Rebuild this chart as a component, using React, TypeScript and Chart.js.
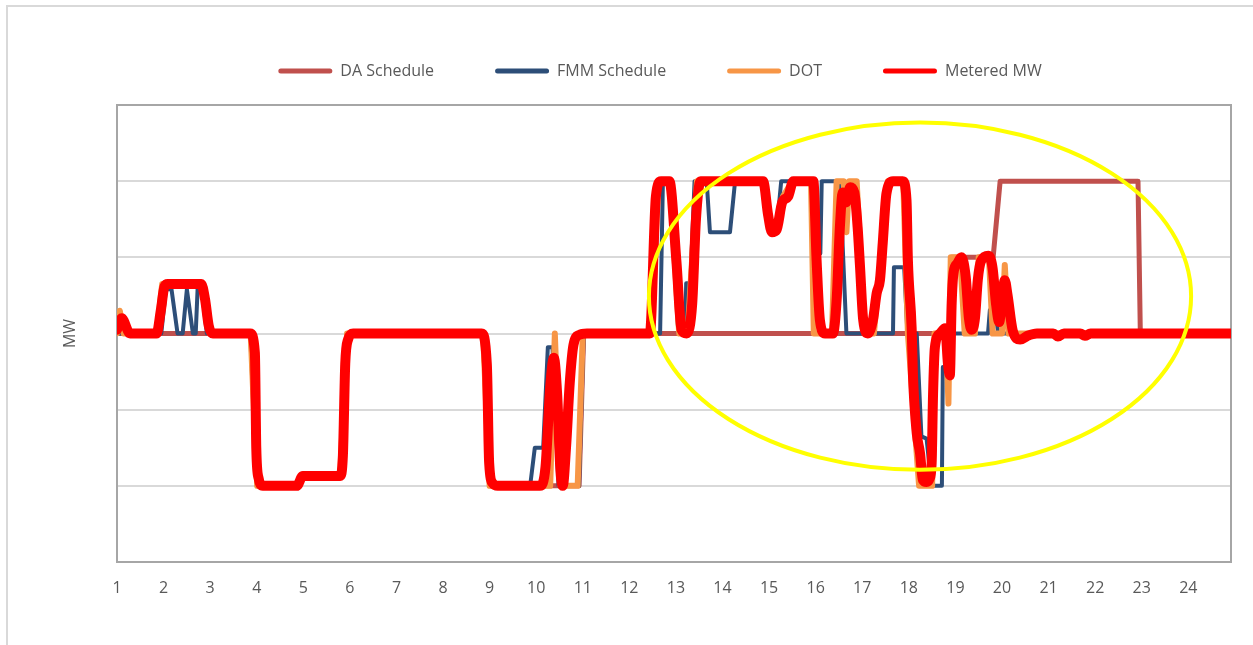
import { useEffect, useRef } from 'react';
import { Chart, registerables } from 'chart.js';

Chart.register(...registerables);

// Hour-of-day tick labels along the bottom axis
const hourTicks = [1, 2, 3, 4, 5, 6, 7, 8, 9, 10, 11, 12, 13, 14, 15, 16, 17, 18, 19, 20, 21, 22, 23, 24];
// The axis spans 288 five-minute intervals starting at hour 1
const HOUR_MIN = 1;
const HOUR_MAX = 1 + 287 / 12;

// Day-ahead schedule
const daHours = [1.0, 3.87, 4.01, 4.86, 4.99, 5.79, 5.94, 8.86, 9.0, 10.92, 11.02, 18.88, 18.92, 19.81, 19.96, 22.92, 22.97, 24.92];
const daMW = [3.0, 3.0, 1.0, 1.0, 1.13, 1.13, 3.0, 3.0, 1.0, 1.0, 3.0, 3.0, 4.0, 4.0, 5.0, 5.0, 3.0, 3.0];

// Fifteen-minute market schedule
const fmmHours = [
  1.0, 1.95, 2.05, 2.17, 2.3, 2.41, 2.5, 2.63, 2.69, 2.73, 2.82, 2.93,
  3.88, 4.01, 4.86, 4.99, 5.79, 5.94, 8.86, 9.0,
  9.87, 9.97, 10.15, 10.25, 10.35, 10.48, 10.92, 11.02,
  12.66, 12.72, 12.9, 13.05, 13.2, 13.22, 13.31, 13.4, 13.66, 13.73, 14.16, 14.27,
  14.9, 15.0, 15.16, 15.26, 15.97, 16.04, 16.1, 16.13, 16.52, 16.66,
  17.66, 17.68, 17.9, 17.97, 18.17, 18.27, 18.38, 18.49, 18.71, 18.73, 18.85, 18.92,
  19.7, 19.74, 19.85, 19.92, 24.92,
];
const fmmMW = [
  3.0, 3.0, 3.58, 3.58, 3.0, 3.0, 3.58, 3.0, 3.0, 3.58, 3.58, 3.0,
  3.0, 1.0, 1.0, 1.13, 1.13, 3.0, 3.0, 1.0,
  1.0, 1.5, 1.5, 2.82, 2.82, 1.0, 1.0, 3.0,
  3.0, 5.0, 5.0, 3.0, 3.0, 3.66, 3.66, 5.0, 5.0, 4.33, 4.33, 5.0,
  5.0, 4.35, 4.35, 5.0, 5.0, 4.05, 4.05, 5.0, 5.0, 3.0,
  3.0, 3.87, 3.87, 3.0, 3.0, 1.65, 1.62, 1.0, 1.0, 2.56, 2.56, 3.0,
  3.0, 3.31, 3.31, 3.0, 3.0,
];

// Dispatch operating target
const dotHours = [
  1.0, 1.06, 1.14, 1.85, 1.97, 2.84, 2.99, 3.87, 4.01, 4.86, 4.99, 5.79, 5.94,
  8.86, 9.0, 10.3, 10.4, 10.52, 10.89, 11.0,
  12.48, 12.62, 12.87, 13.07, 13.25, 13.45, 14.9, 15.03, 15.17, 15.3, 15.5,
  15.9, 15.96, 16.35, 16.45, 16.6, 16.66, 16.72, 16.88, 17.05, 17.25, 17.55, 17.88, 17.98,
  18.22, 18.5, 18.55, 18.8, 18.85, 18.9, 19.1, 19.2, 19.42, 19.5, 19.72, 19.8, 20.0, 20.06, 20.14, 24.92,
];
const dotMW = [
  3.0, 3.3, 3.0, 3.0, 3.65, 3.65, 3.0, 3.0, 1.0, 1.0, 1.13, 1.13, 3.0,
  3.0, 1.0, 1.0, 3.0, 1.0, 1.0, 3.0,
  3.0, 5.0, 5.0, 3.0, 3.0, 5.0, 5.0, 4.33, 4.33, 4.8, 5.0,
  5.0, 3.0, 3.0, 5.0, 5.0, 4.33, 5.0, 5.0, 3.0, 3.0, 5.0, 5.0, 3.0,
  1.0, 1.0, 3.0, 3.0, 2.08, 4.0, 4.0, 3.0, 3.0, 4.0, 4.0, 3.0, 3.0, 3.9, 3.0, 3.0,
];

// Metered output
const meteredHours = [
  1.0, 1.1, 1.28, 1.85, 1.94, 2.02, 2.09, 2.81, 2.89, 2.97, 3.06,
  3.86, 3.96, 3.99, 4.04, 4.13, 4.86, 4.99, 5.79, 5.85, 5.9, 5.96, 6.07,
  8.83, 8.94, 8.99, 9.07, 9.17, 10.08, 10.2, 10.3, 10.38, 10.45, 10.52, 10.57, 10.64, 10.72, 10.8, 10.92, 11.09,
  12.44, 12.57, 12.68, 12.86, 13.01, 13.12, 13.23, 13.35, 13.43, 13.53,
  14.87, 14.98, 15.06, 15.16, 15.28, 15.41, 15.52,
  15.95, 16.02, 16.09, 16.2, 16.37, 16.45, 16.52, 16.58, 16.65, 16.74, 16.83, 16.9, 16.95, 17.02, 17.12,
  17.23, 17.31, 17.38, 17.44, 17.52, 17.66, 17.87, 17.95, 17.98, 18.06, 18.09, 18.17, 18.24, 18.3, 18.38,
  18.45, 18.49, 18.52, 18.56, 18.67, 18.78, 18.84, 18.88, 18.92, 18.96, 19.04, 19.13, 19.22, 19.29, 19.35,
  19.42, 19.48, 19.55, 19.71, 19.8, 19.87, 19.94, 20.0, 20.06, 20.12, 20.23, 20.39, 20.55, 20.75,
  21.1, 21.2, 21.33, 21.68, 21.78, 21.9, 24.92,
];
const meteredMW = [
  3.05, 3.2, 3.0, 3.0, 3.3, 3.62, 3.65, 3.65, 3.45, 3.1, 3.0,
  3.0, 2.75, 1.5, 1.1, 1.0, 1.0, 1.13, 1.13, 1.4, 2.6, 2.92, 3.0,
  3.0, 2.6, 1.3, 1.03, 1.0, 1.0, 1.25, 2.3, 2.68, 2.2, 1.2, 1.0, 1.5, 2.35, 2.85, 2.98, 3.0,
  3.0, 4.8, 5.0, 5.0, 3.95, 3.05, 3.0, 3.4, 4.5, 5.0,
  5.0, 4.55, 4.33, 4.36, 4.72, 4.8, 5.0,
  5.0, 3.96, 3.18, 3.0, 3.0, 3.44, 4.4, 4.85, 4.72, 4.92, 4.85, 4.4, 3.9, 3.18, 3.0,
  3.18, 3.53, 3.7, 4.19, 4.84, 5.0, 5.0, 4.75, 3.96, 3.08, 2.43, 1.69, 1.43, 1.08, 1.05,
  1.1, 1.3, 2.2, 2.82, 3.0, 3.07, 2.6, 2.45, 3.4, 3.8, 3.92, 4.0, 3.75, 3.2, 3.05,
  3.2, 3.7, 3.95, 4.02, 3.85, 3.4, 3.15, 3.45, 3.7, 3.5, 3.04, 2.92, 2.97, 3.0,
  3.0, 2.96, 3.0, 3.0, 2.97, 3.0, 3.0,
];

// Highlight ellipse around the evening deviations (hours / MW units)
const highlightCenterHour = 18.24;
const highlightCenterMW = 3.49;
const highlightHourRadius = 5.82;
const highlightMWRadius = 2.28;

const TEXT = '#595959';
const FRAME = '#a6a6a6';
const GRID = '#d9d9d9';

const toPoints = (hours: number[], mw: number[]) => hours.map((h, i) => ({ x: h, y: mw[i] }));

const highlightPlugin = {
  id: 'highlightEllipse',
  afterDatasetsDraw(chart: any) {
    const { ctx, scales } = chart;
    const xs = scales.x;
    const ys = scales.y;
    const cx = xs.getPixelForValue(highlightCenterHour);
    const rx = Math.abs(xs.getPixelForValue(highlightCenterHour + highlightHourRadius) - cx);
    const cy = ys.getPixelForValue(highlightCenterMW);
    const ry = Math.abs(ys.getPixelForValue(highlightCenterMW + highlightMWRadius) - cy);
    ctx.save();
    ctx.beginPath();
    ctx.ellipse(cx, cy, rx, ry, 0, 0, Math.PI * 2);
    ctx.strokeStyle = '#FFFF00';
    ctx.lineWidth = 4;
    ctx.stroke();
    ctx.restore();
  },
};

export default function App() {
  const canvasRef = useRef<HTMLCanvasElement>(null);

  useEffect(() => {
    if (!canvasRef.current) return;
    Chart.defaults.font.family = "'Open Sans', sans-serif";
    Chart.defaults.color = TEXT;

    const lineBase = {
      pointRadius: 0,
      pointHoverRadius: 0,
      borderJoinStyle: 'round' as const,
      borderCapStyle: 'round' as const,
      fill: false,
    };

    const chart = new Chart(canvasRef.current, {
      type: 'line',
      data: {
        datasets: [
          { ...lineBase, label: 'DA Schedule', data: toPoints(daHours, daMW), borderColor: '#C0504D', backgroundColor: '#C0504D', borderWidth: 5, tension: 0, order: 4 },
          { ...lineBase, label: 'FMM Schedule', data: toPoints(fmmHours, fmmMW), borderColor: '#2D4E78', backgroundColor: '#2D4E78', borderWidth: 4, tension: 0, order: 3 },
          { ...lineBase, label: 'DOT', data: toPoints(dotHours, dotMW), borderColor: '#F79646', backgroundColor: '#F79646', borderWidth: 6, tension: 0, order: 2 },
          { ...lineBase, label: 'Metered MW', data: toPoints(meteredHours, meteredMW), borderColor: '#FF0000', backgroundColor: '#FF0000', borderWidth: 10, cubicInterpolationMode: 'monotone', order: 1 },
        ],
      },
      options: {
        responsive: false,
        devicePixelRatio: 1,
        animation: false,
        events: [],
        layout: { padding: { left: 40, right: 10, top: 2, bottom: 0 } },
        plugins: {
          tooltip: { enabled: false },
          legend: {
            position: 'top',
            labels: {
              boxWidth: 54,
              boxHeight: 5,
              padding: 61,
              color: TEXT,
              font: { size: 16 },
              generateLabels: (c: any) =>
                c.data.datasets.map((ds: any, i: number) => ({
                  text: ds.label,
                  fillStyle: ds.borderColor,
                  strokeStyle: ds.borderColor,
                  lineWidth: 0,
                  hidden: false,
                  datasetIndex: i,
                  fontColor: TEXT,
                  borderRadius: 2.5,
                })),
            },
          },
        },
        scales: {
          x: {
            type: 'linear',
            position: 'bottom',
            min: HOUR_MIN,
            max: HOUR_MAX,
            grid: { display: false, drawTicks: false },
            border: { display: true, color: FRAME, width: 2 },
            afterBuildTicks: (s: any) => {
              s.ticks = hourTicks.map((v) => ({ value: v }));
            },
            ticks: {
              autoSkip: false,
              maxRotation: 0,
              padding: 17,
              color: TEXT,
              font: { size: 16 },
              callback: (v: any) => String(v),
            },
            afterFit: (s: any) => {
              s.height = 83;
            },
          },
          xTop: {
            type: 'linear',
            position: 'top',
            min: HOUR_MIN,
            max: HOUR_MAX,
            grid: { display: false, drawTicks: false },
            ticks: { display: false },
            border: { display: true, color: FRAME, width: 2 },
            afterFit: (s: any) => {
              s.height = 16;
            },
          },
          y: {
            type: 'linear',
            position: 'left',
            min: 0,
            max: 6,
            ticks: { display: false, stepSize: 1 },
            grid: {
              drawTicks: false,
              lineWidth: 2,
              color: (ctx: any) => (ctx.tick && ctx.tick.value > 0 && ctx.tick.value < 6 ? GRID : 'rgba(0,0,0,0)'),
            },
            border: { display: true, color: FRAME, width: 2 },
            title: { display: true, text: 'MW', color: TEXT, font: { size: 16 }, padding: { top: 21, bottom: 0 } },
            afterFit: (s: any) => {
              s.width = 77;
            },
          },
          yRight: {
            type: 'linear',
            position: 'right',
            min: 0,
            max: 6,
            grid: { display: false, drawTicks: false },
            ticks: { display: false },
            border: { display: true, color: FRAME, width: 2 },
            afterFit: (s: any) => {
              s.width = 49;
            },
          },
        },
      } as any,
      plugins: [highlightPlugin],
    });

    return () => chart.destroy();
  }, []);

  return (
    <div style={{ position: 'fixed', inset: 0, overflow: 'hidden', background: '#ffffff' }}>
      <div
        style={{
          position: 'absolute',
          left: 6,
          top: 5,
          width: 1400,
          height: 800,
          borderLeft: `2px solid ${GRID}`,
          borderTop: `2px solid ${GRID}`,
        }}
      />
      <canvas
        ref={canvasRef}
        width={1290}
        height={645}
        style={{ position: 'absolute', left: 0, top: 0, width: 1290, height: 645 }}
      />
    </div>
  );
}
